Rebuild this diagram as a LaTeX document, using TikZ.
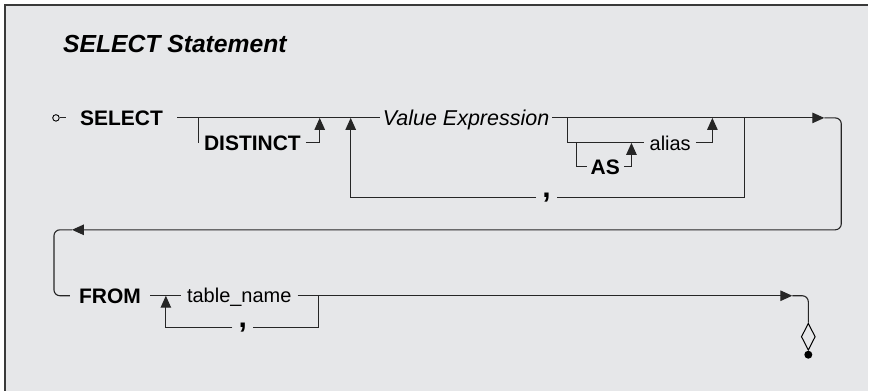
\documentclass[tikz,border=0pt]{standalone}
\usepackage{fontspec}
\setmainfont{Liberation Sans}
\usetikzlibrary{arrows.meta,shapes.geometric}
\definecolor{panelgray}{HTML}{E6E7E9}
\definecolor{framegray}{HTML}{3A3A3A}
\begin{document}
\begin{tikzpicture}[x=1pt,y=-1pt,
            rail/.style={line width=1.1pt, draw=black!85},
            railtip/.style={-{Triangle[length=12pt,width=10.5pt]}},
            railcorner/.style={rounded corners=6pt},
            word/.style={inner ysep=0pt, inner xsep=4pt, text depth=0pt, anchor=west},
            kw/.style={word, text height=15pt, font=\fontsize{21}{21}\selectfont\bfseries},
            nt/.style={word, text height=14.3pt, font=\fontsize{20}{20}\selectfont},
            ex/.style={word, text height=15.4pt, font=\fontsize{21.5}{21.5}\selectfont\itshape},
            commasep/.style={inner xsep=6pt, inner ysep=0pt, font=\fontsize{30}{30}\selectfont\bfseries}]

            \fill[white] (0,0) rectangle (869,391);
            \fill[panelgray] (5,5) rectangle (869,391);
            \draw[framegray, line width=1.5pt] (5,391) -- (5,5) -- (869,5);
            \useasboundingbox (0,0) rectangle (869,391);

            \node[anchor=base west, inner sep=0pt, font=\fontsize{24.7}{24.7}\selectfont\bfseries\itshape] (title) at (63,53) {SELECT Statement};

            \node[circle, draw, line width=0.9pt, minimum size=6.5pt, inner sep=0pt] (start) at (56,118) {};
            \node[kw, inner xsep=14pt] (select) at (66,118) {SELECT};
            \node[kw, inner xsep=5pt] (distinct) at (199,143) {DISTINCT};
            \node[ex, inner xsep=3pt] (valexpr) at (380,118) {Value Expression};
            \node[nt, inner xsep=5pt] (alias) at (645,143) {alias};
            \node[kw] (as) at (587,167) {AS};
            \node[commasep] (comma1) at (547,198) {,};
            \node[kw, inner xsep=9pt] (from) at (70,296) {FROM};
            \node[nt, inner xsep=6pt] (tabname) at (181,296) {table\_name};
            \node[commasep] (comma2) at (243,328) {,};
            \node[diamond, draw, line width=1pt, aspect=0.5, minimum width=14pt, minimum height=27pt, inner sep=0pt, fill=panelgray] (endmark) at (809,337) {};
            \node[circle, fill=black, minimum size=8pt, inner sep=0pt] (enddot) at (809,355) {};

            \coordinate (j1) at (199,118);
            \coordinate (j2) at (320,118);
            \coordinate (j3) at (351,118);
            \coordinate (j4) at (568,118);
            \coordinate (j5) at (577,143);
            \coordinate (j6) at (632,143);
            \coordinate (j7) at (713,118);
            \coordinate (j8) at (745,118);
            \coordinate (r1) at (825,118);
            \coordinate (r2) at (842,118);
            \coordinate (l1) at (72,230);
            \coordinate (l2) at (54,230);
            \coordinate (k1) at (166,296);
            \coordinate (k2) at (319,296);
            \coordinate (e1) at (793,296);
            \coordinate (e2) at (809,296);

            \draw[rail] (start.east) -- (select.west);
            \draw[rail] (select.east) -- (valexpr.west);
            \draw[rail] (j1) |- (distinct.west);
            \draw[rail, railtip] (distinct.east) -| (j2);
            \draw[rail] (j8) |- (comma1.east);
            \draw[rail, railtip] (comma1.west) -| (j3);
            \draw[rail] (j4) |- (alias.west);
            \draw[rail, railtip] (alias.east) -| (j7);
            \draw[rail] (j5) |- (as.west);
            \draw[rail, railtip] (as.east) -| (j6);
            \draw[rail, railtip] (valexpr.east) -- (r1);
            \draw[rail, railtip, railcorner] (r1) -- (r2) |- (l1);
            \draw[rail, railcorner] (l1) -- (l2) |- (from.west);

            \draw[rail] (from.east) -- (tabname.west);
            \draw[rail] (k2) |- (comma2.east);
            \draw[rail, railtip] (comma2.west) -| (k1);
            \draw[rail, railtip] (tabname.east) -- (e1);
            \draw[rail, railcorner] (e1) -- (e2) -- (endmark.north);
\end{tikzpicture}
\end{document}
